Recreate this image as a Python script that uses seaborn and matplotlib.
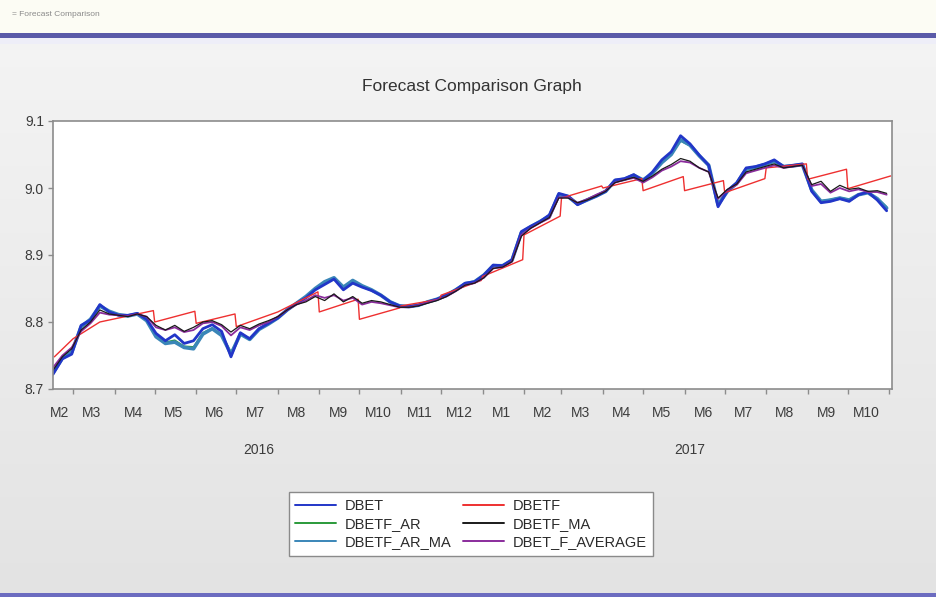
import pandas as pd
import numpy as np
import matplotlib
matplotlib.use("Agg")
import matplotlib.pyplot as plt
import matplotlib.dates as mdates
from matplotlib.patches import Rectangle
from matplotlib.lines import Line2D
from matplotlib.ticker import FixedLocator, FixedFormatter, NullFormatter
import seaborn as sns

# weekly readings (Mondays) from mid Feb 2016 to end Oct 2017
dates = pd.date_range("2016-02-15", periods=90, freq="7D")

dbet = [8.722, 8.745, 8.752, 8.795, 8.803, 8.826, 8.815, 8.810, 8.810, 8.813,
        8.804, 8.783, 8.772, 8.781, 8.768, 8.772, 8.790, 8.796, 8.786, 8.748,
        8.784, 8.775, 8.790, 8.798, 8.806, 8.818, 8.828, 8.836, 8.848, 8.856,
        8.864, 8.848, 8.858, 8.852, 8.847, 8.840, 8.830, 8.824, 8.823, 8.825,
        8.830, 8.834, 8.840, 8.848, 8.858, 8.860, 8.870, 8.885, 8.884, 8.893,
        8.935, 8.943, 8.950, 8.960, 8.992, 8.988, 8.975, 8.982, 8.988, 8.995,
        9.012, 9.014, 9.020, 9.011, 9.024, 9.042, 9.054, 9.078, 9.066, 9.049,
        9.034, 8.972, 8.996, 9.008, 9.030, 9.032, 9.036, 9.042, 9.032, 9.034,
        9.036, 8.995, 8.978, 8.980, 8.984, 8.980, 8.990, 8.994, 8.982, 8.966]

dbetf_ar_ma = [8.724, 8.746, 8.755, 8.793, 8.804, 8.824, 8.816, 8.811, 8.809, 8.812,
               8.802, 8.778, 8.768, 8.770, 8.762, 8.760, 8.782, 8.790, 8.780, 8.752,
               8.782, 8.774, 8.789, 8.797, 8.806, 8.818, 8.828, 8.838, 8.850, 8.860,
               8.866, 8.852, 8.862, 8.854, 8.848, 8.840, 8.830, 8.824, 8.823, 8.825,
               8.830, 8.834, 8.840, 8.848, 8.857, 8.860, 8.870, 8.884, 8.884, 8.892,
               8.933, 8.942, 8.950, 8.958, 8.990, 8.987, 8.976, 8.982, 8.988, 8.995,
               9.011, 9.013, 9.019, 9.012, 9.022, 9.038, 9.050, 9.072, 9.064, 9.048,
               9.034, 8.975, 8.995, 9.007, 9.028, 9.031, 9.035, 9.040, 9.032, 9.033,
               9.035, 8.997, 8.980, 8.982, 8.985, 8.982, 8.990, 8.993, 8.984, 8.970]

dbetf_ar = [8.725, 8.747, 8.756, 8.792, 8.804, 8.823, 8.815, 8.811, 8.809, 8.812,
            8.803, 8.780, 8.770, 8.773, 8.764, 8.763, 8.784, 8.791, 8.782, 8.755,
            8.783, 8.775, 8.789, 8.797, 8.806, 8.818, 8.828, 8.837, 8.848, 8.857,
            8.864, 8.850, 8.860, 8.853, 8.847, 8.840, 8.830, 8.824, 8.823, 8.825,
            8.830, 8.834, 8.840, 8.848, 8.857, 8.860, 8.870, 8.884, 8.884, 8.892,
            8.932, 8.942, 8.950, 8.958, 8.989, 8.987, 8.976, 8.982, 8.988, 8.995,
            9.011, 9.013, 9.018, 9.012, 9.022, 9.037, 9.049, 9.070, 9.063, 9.047,
            9.033, 8.977, 8.995, 9.007, 9.028, 9.031, 9.035, 9.040, 9.032, 9.033,
            9.035, 8.998, 8.981, 8.983, 8.986, 8.983, 8.990, 8.993, 8.985, 8.972]

dbetf_ma = [8.728, 8.748, 8.760, 8.788, 8.800, 8.818, 8.812, 8.810, 8.808, 8.812,
            8.808, 8.795, 8.788, 8.795, 8.786, 8.792, 8.800, 8.802, 8.796, 8.785,
            8.795, 8.790, 8.797, 8.802, 8.808, 8.818, 8.826, 8.830, 8.838, 8.832,
            8.842, 8.830, 8.838, 8.828, 8.832, 8.830, 8.826, 8.822, 8.822, 8.824,
            8.828, 8.832, 8.838, 8.846, 8.855, 8.858, 8.866, 8.880, 8.882, 8.890,
            8.928, 8.940, 8.948, 8.956, 8.985, 8.985, 8.978, 8.982, 8.988, 8.995,
            9.008, 9.012, 9.016, 9.010, 9.018, 9.028, 9.035, 9.044, 9.040, 9.030,
            9.024, 8.985, 8.998, 9.006, 9.024, 9.028, 9.032, 9.036, 9.030, 9.032,
            9.034, 9.005, 9.010, 8.995, 9.004, 8.998, 9.000, 8.995, 8.996, 8.992]

dbet_f_average = [8.732, 8.750, 8.762, 8.786, 8.798, 8.814, 8.811, 8.810, 8.809, 8.812,
                  8.808, 8.792, 8.788, 8.792, 8.785, 8.788, 8.798, 8.800, 8.794, 8.780,
                  8.792, 8.788, 8.795, 8.800, 8.808, 8.818, 8.826, 8.832, 8.840, 8.836,
                  8.840, 8.832, 8.836, 8.826, 8.830, 8.828, 8.825, 8.822, 8.822, 8.825,
                  8.829, 8.833, 8.838, 8.846, 8.855, 8.858, 8.866, 8.880, 8.882, 8.890,
                  8.930, 8.940, 8.948, 8.955, 8.986, 8.986, 8.978, 8.983, 8.990, 8.996,
                  9.008, 9.012, 9.015, 9.008, 9.016, 9.026, 9.032, 9.040, 9.038, 9.030,
                  9.024, 8.984, 8.997, 9.005, 9.022, 9.026, 9.030, 9.034, 9.030, 9.032,
                  9.034, 9.003, 9.006, 8.993, 9.000, 8.995, 8.998, 8.994, 8.994, 8.990]

# monthly re-estimated forecast: ramps that restart at each month start
dbetf_dates = pd.to_datetime([
    "2016-02-16", "2016-03-01", "2016-03-21", "2016-04-30",
    "2016-05-01", "2016-05-31", "2016-06-01", "2016-06-30",
    "2016-07-01", "2016-08-01", "2016-08-31", "2016-09-01", "2016-09-30",
    "2016-10-01", "2016-10-31", "2016-11-01", "2016-11-30",
    "2016-12-01", "2016-12-31", "2017-01-01", "2017-01-31",
    "2017-02-01", "2017-02-28", "2017-03-01", "2017-03-31",
    "2017-04-01", "2017-04-30", "2017-05-01", "2017-05-31",
    "2017-06-01", "2017-06-30", "2017-07-01", "2017-07-31",
    "2017-08-01", "2017-08-31", "2017-09-01", "2017-09-30",
    "2017-10-01", "2017-11-02"])
dbetf = [8.748, 8.775, 8.800, 8.817,
         8.800, 8.816, 8.798, 8.812,
         8.793, 8.815, 8.845, 8.815, 8.834,
         8.804, 8.821, 8.824, 8.834,
         8.840, 8.862, 8.868, 8.893,
         8.930, 8.958, 8.985, 9.003,
         9.000, 9.014, 8.996, 9.017,
         8.996, 9.011, 8.993, 9.014,
         9.030, 9.036, 9.013, 9.028,
         8.999, 9.018]

month_labels = ["M2", "M3", "M4", "M5", "M6", "M7", "M8", "M9", "M10", "M11", "M12",
                "M1", "M2", "M3", "M4", "M5", "M6", "M7", "M8", "M9", "M10"]
month_label_dates = pd.to_datetime(["2016-02-20"] + [f"{y}-{m:02d}-15" for y, m in
                                   [(2016, m) for m in range(3, 13)] + [(2017, m) for m in range(1, 11)]])
year_labels = ["2016", "2017"]
year_label_dates = pd.to_datetime(["2016-07-18", "2017-06-05"])

sns.set_style("white")
plt.rcParams['font.family'] = ['Liberation Sans', 'DejaVu Sans']

W, H = 936, 597
fig = plt.figure(figsize=(W / 100, H / 100), dpi=100)
fig.patch.set_facecolor("#ececec")

# window background
bg = fig.add_axes([0, 0, 1, 1], zorder=-10)
grad = np.linspace(0, 1, 256).reshape(-1, 1)
bg.imshow(grad, aspect="auto", cmap=matplotlib.colors.LinearSegmentedColormap.from_list(
    "bg", ["#f5f5f5", "#e3e3e3"]), extent=[0, 1, 0, 1], transform=bg.transAxes)
bg.set_axis_off()
fig.patches.append(Rectangle((0, 1 - 33 / H), 1, 33 / H, transform=fig.transFigure,
                             facecolor="#fcfcf4", edgecolor="none", zorder=-5))
fig.patches.append(Rectangle((0, 1 - 38 / H), 1, 5 / H, transform=fig.transFigure,
                             facecolor="#5a5aa8", edgecolor="none", zorder=-4))
fig.patches.append(Rectangle((0, 1 - 44 / H), 1, 6 / H, transform=fig.transFigure,
                             facecolor="#eeeef8", edgecolor="none", zorder=-4))
fig.patches.append(Rectangle((0, 0), 1, 4 / H, transform=fig.transFigure,
                             facecolor="#6c6cc0", edgecolor="none", zorder=-4))
fig.text(12 / W, 1 - 15 / H, "= Forecast Comparison", fontsize=6, color="#8a8a8a",
         ha="left", va="center")

ax = fig.add_axes([53 / W, 1 - 389 / H, (892 - 53) / W, (389 - 121) / H])
ax.set_facecolor("white")

# name, x, y, colour, width (drawn in this order)
styles = [
    ("DBETF_AR", dates, dbetf_ar, "#2a9a3a", 1.0),
    ("DBETF_AR_MA", dates, dbetf_ar_ma, "#3a86b8", 2.6),
    ("DBET", dates, dbet, "#2236c8", 2.0),
    ("DBETF", dbetf_dates, dbetf, "#ee3030", 1.0),
    ("DBET_F_AVERAGE", dates, dbet_f_average, "#8a2c9c", 1.3),
    ("DBETF_MA", dates, dbetf_ma, "#1a1a1a", 0.9),
]
for name, x, y, c, lw in styles:
    sns.lineplot(x=x, y=y, ax=ax, color=c, linewidth=lw, legend=False)

ax.set_xlim(pd.Timestamp("2016-02-15"), pd.Timestamp("2017-11-03"))
ax.set_ylim(8.7, 9.1)
ax.set_yticks([8.7, 8.8, 8.9, 9.0, 9.1])
ax.set_yticklabels(["8.7", "8.8", "8.9", "9.0", "9.1"])
ax.set_xlabel("")
ax.set_ylabel("")

ax.xaxis.set_major_locator(mdates.MonthLocator())
ax.xaxis.set_major_formatter(NullFormatter())
ax.xaxis.set_minor_locator(FixedLocator(mdates.date2num(month_label_dates)))
ax.xaxis.set_minor_formatter(FixedFormatter(month_labels))
ax.tick_params(axis="x", which="major", length=3.5, width=1, color="#8c8c8c", direction="out", bottom=True)
ax.tick_params(axis="x", which="minor", length=0, pad=12, labelsize=10, labelcolor="#3c3c3c", bottom=True)
ax.tick_params(axis="y", length=3.5, width=1, color="#8c8c8c", direction="out", left=True,
               labelsize=10, labelcolor="#3c3c3c", pad=3)
for s in ax.spines.values():
    s.set_color("#8c8c8c")
    s.set_linewidth(1.2)

for d, t in zip(year_label_dates, year_labels):
    ax.text(d, -0.228, t, transform=ax.get_xaxis_transform(), ha="center", va="center",
            fontsize=10, color="#3c3c3c")

fig.text(472 / W, 1 - 87 / H, "Forecast Comparison Graph", ha="center", va="center",
         fontsize=12.5, color="#333333")

order = ["DBET", "DBETF_AR", "DBETF_AR_MA", "DBETF", "DBETF_MA", "DBET_F_AVERAGE"]
lookup = {n: c for n, _, _, c, _ in styles}
handles = [Line2D([], [], color=lookup[n], linewidth=1.4) for n in order]
leg = ax.legend(handles, order, ncol=2, loc="center",
                bbox_to_anchor=(471 / W, 1 - 524 / H), bbox_transform=fig.transFigure,
                frameon=True, fancybox=False, edgecolor="#8a8a8a", facecolor="white",
                framealpha=1, fontsize=10.5, handlelength=2.8, handletextpad=0.6,
                columnspacing=0.8, labelspacing=0.3, borderpad=0.45)
leg.get_frame().set_linewidth(1.0)
for t in leg.get_texts():
    t.set_color("#2a2a2a")

fig.savefig("out.png", dpi=100, facecolor=fig.get_facecolor())
